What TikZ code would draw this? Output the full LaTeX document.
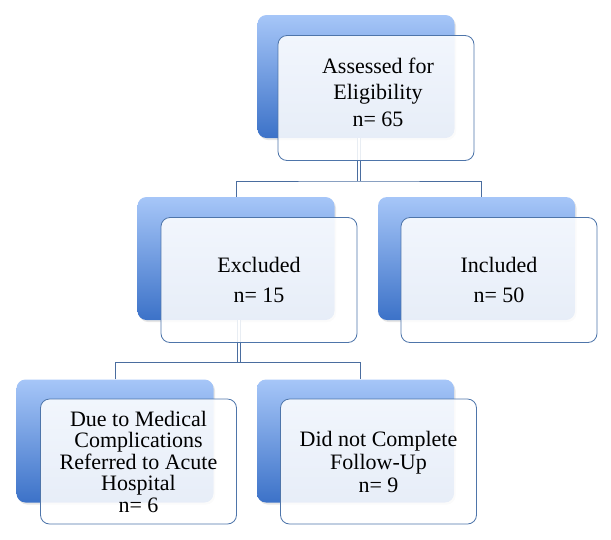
\documentclass[tikz,border=0pt]{standalone}
\usepackage{fontspec}
\setmainfont{Liberation Serif}
\usepackage{xcolor}
\usepackage{tikz}
\usetikzlibrary{shadows}
\definecolor{boxline}{RGB}{78,117,170}
\definecolor{shadetop}{RGB}{166,198,248}
\definecolor{shadebot}{RGB}{60,114,200}
\definecolor{linkblue}{RGB}{74,109,159}

\tikzset{
  backbox/.style={rounded corners=9pt, minimum width=197pt, minimum height=123pt, inner sep=0pt,
    top color=shadetop, bottom color=shadebot, draw=none,
    drop shadow={opacity=0.2, shadow xshift=1.5pt, shadow yshift=-2pt}},
  frontbox/.style={rounded corners=9pt, minimum width=196pt, minimum height=125pt, inner sep=0pt,
    draw=boxline, line width=0.8pt, fill=white, fill opacity=0.88, text opacity=1,
    align=center, font=\fontsize{22}{26}\selectfont},
  link/.style={draw=linkblue, line width=0.8pt},
  dbl/.style={draw=linkblue, line width=0.7pt, double=white, double distance=2.6pt}
}

\begin{document}
\begin{tikzpicture}[x=1pt, y=-1pt]
\useasboundingbox (0,0) rectangle (611,539);

% 1. Back boxes (shaded)
\node[backbox] (assessbk) at (356,76.5) {};
\node[backbox] (exclbk) at (236,258.5) {};
\node[backbox] (inclbk) at (476.5,258.5) {};
\node[backbox] (medicbk) at (115,441) {};
\node[backbox] (followbk) at (355.5,441) {};

% 2. Connectors
\coordinate (jtop) at (359,181);
\coordinate (jmid) at (239,362.5);
\draw[dbl] ([xshift=3pt]assessbk.south) -- (jtop);
\draw[link] (exclbk.north) |- (jtop) -| ([xshift=5pt]inclbk.north);
\draw[dbl] ([xshift=3pt]exclbk.south) -- (jmid);
\draw[link] (medicbk.north) |- (jmid) -| ([xshift=5pt]followbk.north);

% 3. Front boxes (text)
\node[frontbox] (assess) at (376,98) {};
\node[align=center, font=\fontsize{22}{26.5}\selectfont] (assesstxt) at (378,92) {Assessed for\\Eligibility\\n= 65};
\node[frontbox, font=\fontsize{22}{30}\selectfont] (excl) at (259,280) {Excluded\\n= 15};
\node[frontbox, font=\fontsize{22}{30}\selectfont] (incl) at (499,280) {Included\\n= 50};
\node[frontbox, font=\fontsize{22}{21.5}\selectfont] (medic) at (138.5,461.5) {Due to Medical\\Complications\\Referred to Acute\\Hospital\\n= 6};
\node[frontbox, font=\fontsize{22}{23}\selectfont] (follow) at (378.5,461.5) {Did not Complete\\Follow-Up\\n= 9};

\end{tikzpicture}
\end{document}
